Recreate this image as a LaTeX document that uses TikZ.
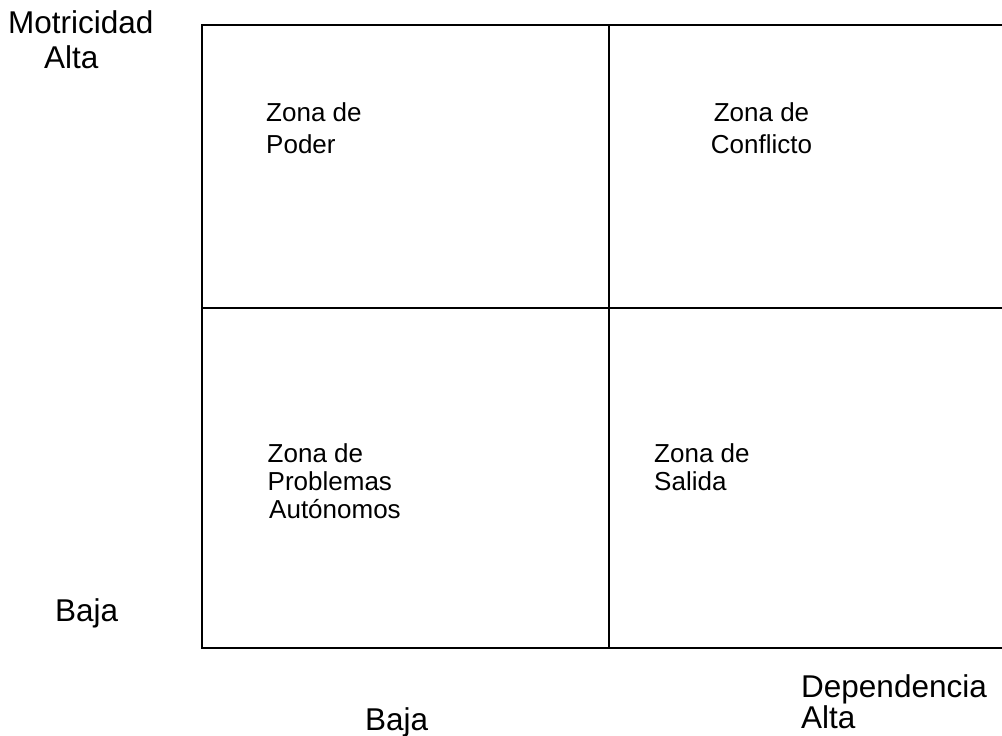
\documentclass[tikz,border=0pt]{standalone}
\usepackage{fontspec}
\setmainfont{Liberation Sans}
\begin{document}
\begin{tikzpicture}[x=1pt,y=-1pt,
  grid/.style={line width=2pt,black},
  axislabel/.style={anchor=base west,inner sep=0pt,font=\fontsize{31.5}{34}\selectfont},
  zonelabel/.style={anchor=base west,inner sep=0pt,font=\fontsize{26}{29}\selectfont},
  zonecenter/.style={anchor=base,inner sep=0pt,font=\fontsize{26}{29}\selectfont}]
\useasboundingbox (0,0) rectangle (1002,736);
% grid corners
\coordinate (tl) at (202,25);
\coordinate (tm) at (609,25);
\coordinate (tr) at (1002,25);
\coordinate (ml) at (202,308);
\coordinate (mr) at (1002,308);
\coordinate (bl) at (202,648);
\coordinate (bm) at (609,648);
\coordinate (br) at (1002,648);
\draw[grid] (tr) -- (tl) -- (bl) -- (br);
\draw[grid] (tm) -- (bm);
\draw[grid] (ml) -- (mr);
% axis labels
\node[axislabel] (mot) at (8,33.5) {Motricidad};
\node[axislabel] (alta1) at (44,68) {Alta};
\node[axislabel] (baja1) at (55,621.5) {Baja};
\node[axislabel] (dep) at (801,697) {Dependencia};
\node[axislabel] (alta2) at (801,728) {Alta};
\node[axislabel] (baja2) at (365,730) {Baja};
% zones
\node[zonelabel] (z1a) at (266,121.7) {Zona de};
\node[zonelabel] (z1b) at (266,153.3) {Poder};
\node[zonecenter] (z2a) at (761.5,121.7) {Zona de};
\node[zonecenter] (z2b) at (761.5,153.3) {Conflicto};
\node[zonelabel] (z3a) at (267.5,462) {Zona de};
\node[zonelabel] (z3b) at (267.5,490.3) {Problemas};
\node[zonelabel] (z3c) at (269,518.6) {Autónomos};
\node[zonelabel] (z4a) at (654,462) {Zona de};
\node[zonelabel] (z4b) at (654,490.3) {Salida};
\end{tikzpicture}
\end{document}
